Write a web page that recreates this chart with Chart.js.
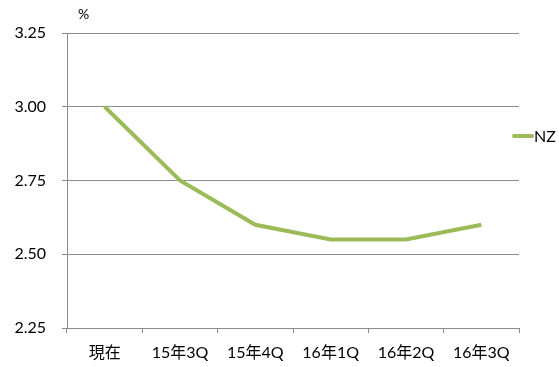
<!DOCTYPE html>
<html>
<head>
<meta charset="utf-8">
<script src="https://cdn.jsdelivr.net/npm/chart.js@4/dist/chart.umd.min.js"></script>
<style>
  html, body { margin: 0; padding: 0; background: #fff; }
  #wrap { width: 559px; height: 367px; position: relative; }
</style>
</head>
<body>
<div id="wrap"><canvas id="chart"></canvas></div>
<script>
const categories = ['現在', '15年3Q', '15年4Q', '16年1Q', '16年2Q', '16年3Q']
const nzValues = [3.00, 2.75, 2.60, 2.55, 2.55, 2.60]
const yTicks = [2.25, 2.50, 2.75, 3.00, 3.25]
const unitLabel = '%'

const FONT = "Lato, 'Noto Sans CJK JP', sans-serif"
const GRID = '#8c8c8c'
const GREEN = '#9bbb59'

// legend on the right + unit label above the y axis
const extras = {
  id: 'extras',
  afterDraw(chart) {
    const ctx = chart.ctx
    const ds = chart.data.datasets[0]
    ctx.save()
    ctx.fillStyle = '#000'
    ctx.textBaseline = 'middle'
    ctx.font = '14px ' + FONT
    ctx.fillText(unitLabel, 78, 14)
    ctx.strokeStyle = ds.borderColor
    ctx.lineWidth = 4
    ctx.lineCap = 'round'
    ctx.beginPath()
    ctx.moveTo(514, 136)
    ctx.lineTo(532, 136)
    ctx.stroke()
    ctx.font = '16px ' + FONT
    ctx.fillText(ds.label, 534, 137)
    ctx.restore()
  }
}

new Chart(document.getElementById('chart'), {
  type: 'line',
  data: {
    labels: categories,
    datasets: [{
      label: 'NZ',
      data: nzValues,
      borderColor: GREEN,
      backgroundColor: GREEN,
      borderWidth: 4,
      pointRadius: 0,
      tension: 0,
    }],
  },
  options: {
    responsive: true,
    maintainAspectRatio: false,
    animation: false,
    layout: { padding: { top: 33, right: 40, left: 0, bottom: 0 } },
    plugins: {
      legend: { display: false },
      tooltip: { enabled: false },
    },
    scales: {
      x: {
        offset: true,
        grid: { offset: true, drawOnChartArea: false, color: GRID, tickLength: 5 },
        border: { color: GRID, width: 1 },
        ticks: { color: '#000', font: { family: FONT, size: 16 }, padding: 10, maxRotation: 0, autoSkip: false },
        afterFit: s => { s.height = 39 },
      },
      y: {
        min: 2.25,
        max: 3.25,
        afterBuildTicks: s => { s.ticks = yTicks.map(v => ({ value: v })) },
        grid: { color: GRID, tickLength: 5 },
        border: { color: GRID, width: 1 },
        ticks: { color: '#000', font: { family: FONT, size: 16 }, padding: 16, callback: v => v.toFixed(2) },
        afterFit: s => { s.width = 67 },
      },
    },
  },
  plugins: [extras],
})
</script>
</body>
</html>
